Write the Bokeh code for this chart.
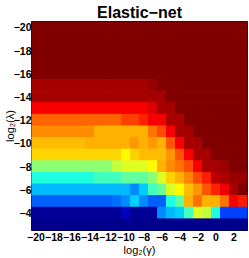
from bokeh.plotting import figure
from bokeh.models import ColumnDataSource, LinearColorMapper, FixedTicker, Range1d
from bokeh.transform import transform
from bokeh.embed import file_html
from bokeh.resources import INLINE

# ---- data ----
log2_gamma = list(range(-20, 4))      # 24 columns
log2_lambda = list(range(-20, -2))    # 18 rows
x_ticks = list(range(-20, 3, 2))
y_ticks = list(range(-20, -3, 2))
x_tick_labels = ["−20", "−18", "−16", "−14", "−12", "−10", "−8", "−6", "−4", "−2", "0", "2"]
y_tick_labels = ["−20", "−18", "−16", "−14", "−12", "−10", "−8", "−6", "−4"]
x_label = "log₂(γ)"
y_label = "log₂(λ)"
title_text = "Elastic−net"

row_m20 = [1.0] * 24
row_m19 = [1.0] * 24
row_m18 = [1.0] * 24
row_m17 = [1.0] * 24
row_m16 = [1.0] * 24
row_m15 = [0.958] * 13 + [0.975] + [1.0] * 10
row_m14 = [0.958] * 15 + [1.0] * 9
row_m13 = [0.88] * 13 + [0.91] + [0.958] * 2 + [1.0] * 8
row_m12 = [0.775] * 10 + [0.81] * 2 + [0.84] + [0.88] * 2 + [0.955] * 2 + [1.0] * 7
row_m11 = [0.7375] * 7 + [0.70] * 6 + [0.76, 0.80, 0.88] + [0.958] * 2 + [1.0] * 6
row_m10 = [0.69] * 6 + [0.70] * 5 + [0.725, 0.70, 0.725, 0.70, 0.79, 0.88] + [0.958] * 2 + [1.0] * 5
row_m9 = [0.665] * 10 + [0.625, 0.67] + [0.69] * 3 + [0.73, 0.79, 0.88] + [0.958] * 2 + [1.0] * 4
row_m8 = [0.515] * 9 + [0.5625] + [0.59] * 3 + [0.625, 0.70, 0.7375, 0.765, 0.80, 0.88] + [0.958] * 2 + [0.97] + [1.0] * 2
row_m7 = [0.406] * 7 + [0.4375] * 3 + [0.469] * 3 + [0.515, 0.5875, 0.67, 0.70, 0.743, 0.80, 0.844, 0.9375, 0.955] + [0.975] * 2
row_m6 = [0.305] * 11 + [0.265, 0.325, 0.4375, 0.48, 0.5875, 0.625, 0.69, 0.73, 0.79, 0.84, 0.89, 0.955, 1.0]
row_m5 = [0.219] * 9 + [0.235, 0.265, 0.33, 0.265] + [0.219] * 2 + [0.406, 0.469, 0.70, 0.765] + [0.70] * 2 + [0.765, 0.875, 0.844]
row_m4 = [0.025] * 10 + [0.0625] + [0.025] * 3 + [0.265, 0.305, 0.33, 0.4375, 0.5875, 0.57, 0.406] + [0.1875] * 3
row_m3 = [0.015] * 24

rows = [row_m20, row_m19, row_m18, row_m17, row_m16, row_m15, row_m14, row_m13, row_m12,
        row_m11, row_m10, row_m9, row_m8, row_m7, row_m6, row_m5, row_m4, row_m3]

xs, ys, vs = [], [], []
for lam, row in zip(log2_lambda, rows):
    for g, v in zip(log2_gamma, row):
        xs.append(g)
        ys.append(lam)
        vs.append(v)
src = ColumnDataSource(dict(g=xs, l=ys, v=vs))


def jet_color(t):
    def c(a):
        return max(0.0, min(1.0, a))
    r = c(1.5 - abs(4 * t - 3))
    gg = c(1.5 - abs(4 * t - 2))
    b = c(1.5 - abs(4 * t - 1))
    return "#%02x%02x%02x" % (round(r * 255), round(gg * 255), round(b * 255))


jet = [jet_color(i / 255) for i in range(256)]
mapper = LinearColorMapper(palette=jet, low=0.0, high=1.0)

x0, x1 = log2_gamma[0] - 0.5, log2_gamma[-1] + 0.5
p = figure(width=249, height=258, output_backend="svg", toolbar_location=None,
           x_range=Range1d(x0, x1),
           y_range=Range1d(log2_lambda[-1] + 0.5, log2_lambda[0] - 0.5),
           title=title_text, min_border_left=0, min_border_right=2,
           min_border_top=0, min_border_bottom=0)

p.rect(x="g", y="l", width=1, height=1, source=src,
       fill_color=transform("v", mapper), line_color=transform("v", mapper), line_width=1)

p.title.text_font = "Liberation Sans"
p.title.text_font_size = "16px"
p.title.text_font_style = "bold"
p.title.text_color = "black"
p.title.align = "center"
p.title.standoff = 2
p.title.offset = 0

p.xgrid.visible = False
p.ygrid.visible = False
p.outline_line_color = "black"
p.outline_line_width = 1
p.background_fill_color = "white"
p.border_fill_color = "white"

p.xaxis.ticker = FixedTicker(ticks=x_ticks)
p.yaxis.ticker = FixedTicker(ticks=y_ticks)
p.xaxis.major_label_overrides = {t: s for t, s in zip(x_ticks, x_tick_labels)}
p.yaxis.major_label_overrides = {t: s for t, s in zip(y_ticks, y_tick_labels)}
p.xaxis.axis_label = x_label
p.yaxis.axis_label = y_label

for ax in (p.xaxis[0], p.yaxis[0]):
    ax.axis_line_color = None
    ax.major_tick_line_color = None
    ax.minor_tick_line_color = None
    ax.major_tick_out = 0
    ax.major_tick_in = 0
    ax.minor_tick_out = 0
    ax.minor_tick_in = 0
    ax.major_label_text_font = "Liberation Sans"
    ax.major_label_text_font_size = "10.5px"
    ax.major_label_text_font_style = "bold"
    ax.major_label_text_color = "black"
    ax.axis_label_text_font = "Liberation Sans"
    ax.axis_label_text_font_size = "11px"
    ax.axis_label_text_font_style = "normal"
    ax.axis_label_text_color = "black"

p.xaxis.major_label_standoff = 2
p.xaxis.axis_label_standoff = 0
p.yaxis.major_label_standoff = 0
p.yaxis.axis_label_standoff = -5

open("out.html", "w").write(file_html(p, INLINE))
